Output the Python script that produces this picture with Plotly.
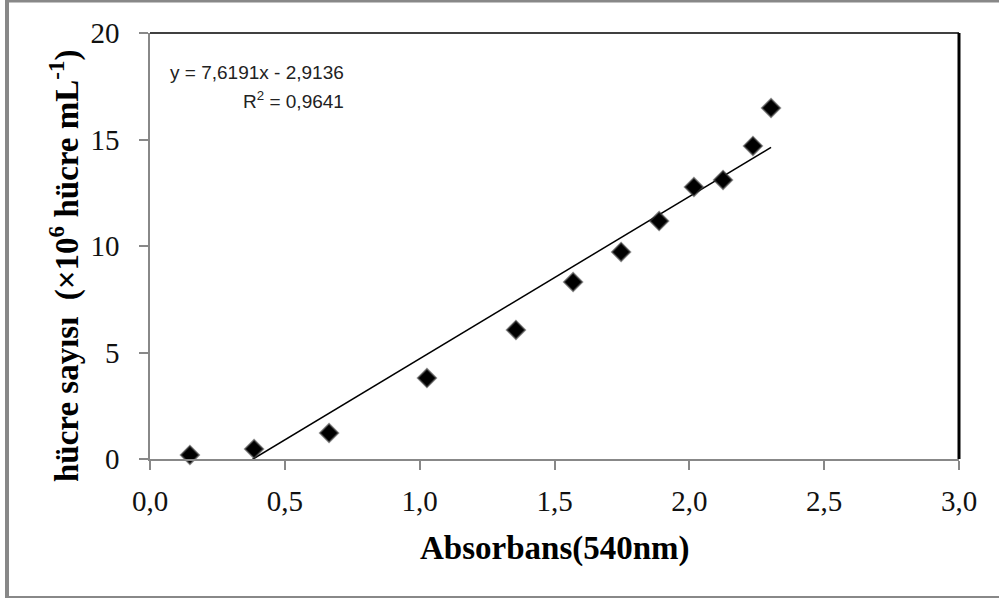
import plotly.graph_objects as go

# Data
absorbans = [0.148, 0.386, 0.664, 1.027, 1.357, 1.569, 1.747, 1.888, 2.017, 2.125, 2.236, 2.303]
hucre = [0.19, 0.47, 1.22, 3.80, 6.06, 8.31, 9.72, 11.17, 12.77, 13.10, 14.70, 16.48]
slope = 7.6191
intercept = -2.9136
r2 = 0.9641
x_ticks = [0.0, 0.5, 1.0, 1.5, 2.0, 2.5, 3.0]
y_ticks = [0, 5, 10, 15, 20]

W, H = 999, 598
L, R, T, B = 150, 959, 33, 459


def px(x):
    return (x - L) / (R - L)


def py(y):
    return (B - y) / (B - T)


trend_x = [min(absorbans), max(absorbans)]
trend_y = [slope * v + intercept for v in trend_x]

fig = go.Figure()
fig.add_trace(go.Scatter(x=trend_x, y=trend_y, mode="lines",
                         line=dict(color="black", width=1.5), showlegend=False))
fig.add_trace(go.Scatter(x=absorbans, y=hucre, mode="markers",
                         marker=dict(symbol="diamond", size=14, color="black",
                                     line=dict(color="rgba(60,60,60,0.6)", width=2)),
                         showlegend=False, cliponaxis=False))

tick_font = dict(family="Liberation Serif", size=29, color="#111111")
fig.update_layout(
    width=W, height=H,
    margin=dict(l=L, r=W - R, t=T, b=H - B),
    paper_bgcolor="white", plot_bgcolor="white",
    separators=",.",
    xaxis=dict(range=[0, 3], tickvals=x_ticks, tickformat=".1f", showgrid=False,
               zeroline=False, showline=True, linecolor="#888888", linewidth=1.5,
               ticks="outside", ticklen=9, tickcolor="#888888", tickwidth=1.5,
               tickfont=tick_font, ticklabelstandoff=6),
    yaxis=dict(range=[0, 20], tickvals=y_ticks, showgrid=False, zeroline=False,
               showline=True, linecolor="#888888", linewidth=1.5,
               ticks="outside", ticklen=9, tickcolor="#888888", tickwidth=1.5,
               tickfont=tick_font, ticklabelstandoff=14),
)

shapes = [
    # plot box top and right
    dict(type="line", xref="paper", yref="paper", x0=0, x1=1, y0=1, y1=1,
         line=dict(color="black", width=1.5)),
    dict(type="line", xref="paper", yref="paper", x0=1, x1=1, y0=0, y1=1,
         line=dict(color="black", width=3)),
    # outer frame
    dict(type="rect", xref="paper", yref="paper", x0=px(5), x1=px(9), y0=py(598), y1=py(0),
         fillcolor="#888888", line=dict(width=0)),
    dict(type="rect", xref="paper", yref="paper", x0=px(5), x1=px(999), y0=py(2.5), y1=py(0),
         fillcolor="#888888", line=dict(width=0)),
    dict(type="rect", xref="paper", yref="paper", x0=px(5), x1=px(999), y0=py(598), y1=py(596),
         fillcolor="#888888", line=dict(width=0)),
]
fig.update_layout(shapes=shapes)

title_font = dict(family="Liberation Serif", size=33, color="black")
eq_font = dict(family="Liberation Sans", size=19, color="#222222")
annotations = [
    dict(text="<b>Absorbans(540nm)</b>", xref="paper", yref="paper",
         x=px(555), y=py(548), xanchor="center", yanchor="middle",
         showarrow=False, font=title_font),
    dict(text="<b>hücre sayısı  (×10<sup>6</sup> hücre mL<sup>-1</sup>)</b>", xref="paper", yref="paper",
         x=px(64), y=py(266), xanchor="center", yanchor="middle", textangle=-90,
         showarrow=False, font=title_font),
    dict(text=f"y = {slope:.4f}x - {abs(intercept):.4f}".replace(".", ","), xref="paper", yref="paper",
         x=px(346), y=py(72), xanchor="right", yanchor="middle",
         showarrow=False, font=eq_font),
    dict(text=f"R<sup>2</sup> = {r2:.4f}".replace(".", ","), xref="paper", yref="paper",
         x=px(346), y=py(100), xanchor="right", yanchor="middle",
         showarrow=False, font=eq_font),
]
fig.update_layout(annotations=annotations)

fig.write_html("out.html")
